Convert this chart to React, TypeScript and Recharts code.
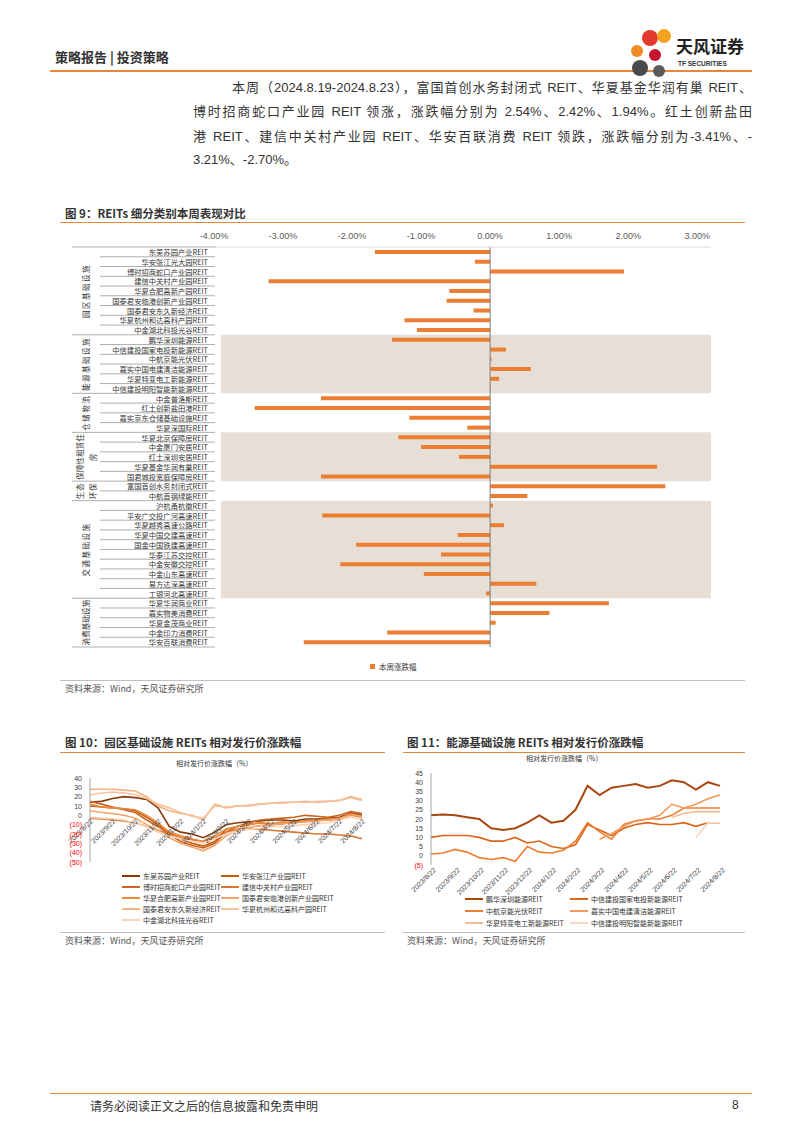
import React from 'react';
import { BarChart, Bar, XAxis, YAxis, ReferenceArea, ReferenceLine, LineChart, Line } from 'recharts';

// ---------------- Figure 9 data ----------------
const REIT_NAMES = [
  '东吴苏园产业REIT', '华安张江光大园REIT', '博时招商蛇口产业园REIT', '建信中关村产业园REIT', '华夏合肥高新产园REIT',
  '国泰君安临港创新产业园REIT', '国泰君安东久新经济REIT', '华夏杭州和达高科产园REIT', '中金湖北科投光谷REIT',
  '鹏华深圳能源REIT', '中信建投国家电投新能源REIT', '中航京能光伏REIT', '嘉实中国电建清洁能源REIT', '华夏特变电工新能源REIT',
  '中信建投明阳智能新能源REIT',
  '中金普洛斯REIT', '红土创新盐田港REIT', '嘉实京东仓储基础设施REIT', '华夏深国际REIT',
  '华夏北京保障房REIT', '中金厦门安居REIT', '红土深圳安居REIT', '华夏基金华润有巢REIT', '国君城投宽庭保障房REIT',
  '富国首创水务封闭式REIT', '中航首钢绿能REIT',
  '沪杭甬杭徽REIT', '平安广交投广河高速REIT', '华夏越秀高速公路REIT', '华夏中国交建高速REIT', '国金中国铁建高速REIT',
  '华泰江苏交控REIT', '中金安徽交控REIT', '中金山东高速REIT', '易方达深高速REIT', '工银河北高速REIT',
  '华夏华润商业REIT', '嘉实物美消费REIT', '华夏金茂商业REIT', '中金印力消费REIT', '华安百联消费REIT',
];
const REIT_CHANGES = [
  -1.67, -0.22, 1.94, -3.21, -0.59, -0.63, -0.24, -1.24, -1.06,
  -1.42, 0.23, 0.02, 0.59, 0.13, 0.01,
  -2.45, -3.41, -1.17, -0.33,
  -1.33, -1.0, -0.45, 2.42, -2.45,
  2.54, 0.54,
  0.04, -2.43, 0.2, -0.47, -1.94, -0.71, -2.17, -0.96, 0.67, -0.06,
  1.72, 0.86, 0.08, -1.49, -2.7,
];
const GROUP_LINES = [
  ['园区基础设施'], ['能源基础设施'], ['仓储物流'], ['保障性租赁住', '房'], ['生态', '环保'], ['交通基础设施'], ['消费基础设施'],
];
const GROUP_SIZES = [9, 6, 4, 5, 2, 10, 5];
const GROUP_SHADED = [false, true, false, true, false, true, false];
const PCT_TICKS = [-4, -3, -2, -1, 0, 1, 2, 3];

// ---------------- Figures 10 / 11 data ----------------
const DATES = [
  '2023/8/22', '2023/9/7', '2023/9/22', '2023/10/7', '2023/10/22', '2023/11/7', '2023/11/22', '2023/12/7', '2023/12/22',
  '2024/1/7', '2024/1/22', '2024/2/7', '2024/2/22', '2024/3/7', '2024/3/22', '2024/4/7', '2024/4/22', '2024/5/7',
  '2024/5/22', '2024/6/7', '2024/6/22', '2024/7/7', '2024/7/22', '2024/8/7', '2024/8/22',
];
const DATE_TICKS = [
  '2023/8/22', '2023/9/22', '2023/10/22', '2023/11/22', '2023/12/22', '2024/1/22', '2024/2/22', '2024/3/22',
  '2024/4/22', '2024/5/22', '2024/6/22', '2024/7/22', '2024/8/22',
];

const DONGWU = [14, 15, 18, 20, 19, 17, 8, -12, -18, -20, -24, -18, -10, -8, -7, -6, -5, -5, -6, -4, -4, -3, -2, 2, 0];
const HUAAN_ZJ = [10, 9, 8, 7, 5, -2, -10, -18, -25, -30, -33, -28, -15, -12, -10, -8, -10, -9, -7, -6, -5, -5, -4, 3, 1];
const BOSHI = [15, 12, 9, 6, 3, -5, -12, -20, -28, -32, -35, -30, -18, -12, -8, -5, -4, -3, -2, 0, -1, -2, 0, 4, 2];
const JIANXIN = [-3, -4, -5, -6, -8, -12, -16, -20, -24, -26, -28, -24, -18, -15, -14, -15, -16, -17, -18, -19, -20, -20, -21, -22, -25];
const HEFEI = [12, 9, 8, 7, 6, 0, -8, -18, -22, -25, -28, -22, -15, -12, -10, -8, -9, -7, -8, -6, -5, -4, -3, 0, -2];
const LINGANG = [5, 3, 2, 0, -3, -10, -16, -24, -30, -34, -38, -32, -22, -16, -13, -11, -10, -9, -8, -7, -6, -5, -4, 1, -1];
const DONGJIU = [28, 28, 28, 27, 26, 20, 10, 5, 2, 0, -5, 12, 8, 10, 10, 12, 13, 14, 14, 15, 14, 15, 16, 20, 17];
const HANGZHOU = [22, 24, 25, 24, 22, 18, 12, 8, 3, -1, -3, 10, 9, 10, 11, 12, 13, 13, 14, 14, 15, 15, 16, 19, 16];
const HUBEI = [-2, -3, -4, -5, -8, -12, -18, -22, -25, -28, -30, -25, -20, -17, -15, -14, -12, -12, -11, -10, -9, -8, -5, -2, -4];

const FIG10_NAMES = [
  '东吴苏园产业REIT', '华安张江产业园REIT', '博时招商蛇口产业园REIT', '建信中关村产业园REIT', '华夏合肥高新产业园REIT',
  '国泰君安临港创新产业园REIT', '国泰君安东久新经济REIT', '华夏杭州和达高科产园REIT', '中金湖北科技光谷REIT',
];
const FIG10_VALUES = [DONGWU, HUAAN_ZJ, BOSHI, JIANXIN, HEFEI, LINGANG, DONGJIU, HANGZHOU, HUBEI];
const FIG10_COLORS = ['#843C0C', '#C55A11', '#CC6420', '#D9772E', '#E98A3D', '#F0A46A', '#F4B183', '#F7C29C', '#FAD3B8'];

const N = null;
const PENGHUA = [22, 22.5, 22, 21, 20, 15, 14, 15, 18, 22, 18, 19, 25, 38, 33, 37, 38, 39, 37, 38, 41, 40, 36, 40, 38];
const ZXJT_GD = [10, 11, 11, 11, 10, 8, 8, 10, 7, 8, 5, 4, 6, 17, 14, 11, 15, 17, 18, 17, 17, 18, 16, 18, 18];
const ZHJN = [1, 1.5, 3.5, 2, -1, -2, -1, -3, 5, 2, 1.5, 3, 8, 18, 13, 9, 17, 19, 20, 20, 22, 26, 26, 26, 26];
const JSDJ = [N, N, N, N, N, N, N, N, N, N, N, N, N, N, 9, 12, 16, 19, 20, 22, 28, 26, 28, 31, 33];
const TBDG = [N, N, N, N, N, N, N, N, N, N, N, N, N, N, N, N, N, N, N, N, 21, 23, 24, 24, 24];
const MINGYANG = [N, N, N, N, N, N, N, N, N, N, N, N, N, N, N, N, N, N, N, N, N, N, 10, 18, 18];

const FIG11_NAMES = [
  '鹏华深圳能源REIT', '中信建投国家电投新能源REIT', '中航京能光伏REIT', '嘉实中国电建清洁能源REIT',
  '华夏特变电工新能源REIT', '中信建投明阳智能新能源REIT',
];
const FIG11_VALUES = [PENGHUA, ZXJT_GD, ZHJN, JSDJ, TBDG, MINGYANG];
const FIG11_COLORS = ['#A9470F', '#D9661A', '#ED7D31', '#F29A5C', '#F6BC97', '#FAD8C3'];

const FIG10_TICKS = [40, 30, 20, 10, 0, -10, -20, -30, -40, -50];
const FIG11_TICKS = [45, 40, 35, 30, 25, 20, 15, 10, 5, 0, -5];

// ---------------- layout constants ----------------
const SANS = '"Liberation Sans", Arial, "Noto Sans CJK SC", sans-serif';
const CJK = '"Noto Sans CJK SC", "Liberation Sans", sans-serif';
const ORANGE = '#E8873A';

const BAR_W = 660;
const BAR_H = 450;
const BAR_MARGIN = { top: 0, right: 9, bottom: 31, left: 0 };
const BAR_XAXIS_H = 19;
const BAR_YAXIS_W = 154;
const BAR_PLOT_H = BAR_H - BAR_MARGIN.top - BAR_MARGIN.bottom - BAR_XAXIS_H;
const ROW_H = BAR_PLOT_H / REIT_NAMES.length;
const GROUP_FONT = 7.5;

const barData = REIT_NAMES.map((name, i) => ({ name, value: REIT_CHANGES[i] }));

const ROW_INFO: { g: number; k: number; n: number }[] = [];
GROUP_SIZES.forEach((n, g) => {
  for (let k = 0; k < n; k++) ROW_INFO.push({ g, k, n });
});
const GROUP_START: number[] = [];
{
  let acc = 0;
  GROUP_SIZES.forEach((n) => {
    GROUP_START.push(acc);
    acc += n;
  });
}

function CategoryTick(props: any) {
  const { y, payload } = props;
  const idx = REIT_NAMES.indexOf(payload.value);
  const info = ROW_INFO[idx];
  const half = ROW_H / 2;
  const LABEL_RIGHT = 148;
  const ROW_LEFT = 40;
  const GROUP_LEFT = 12;
  const SEP_RIGHT = 155;
  const lines = GROUP_LINES[info.g];
  const groupCy = y + ((info.n - 1) * ROW_H) / 2;
  const colGap = 13;
  const groupSpan = info.n * ROW_H - 3;
  return (
    <g>
      <text x={LABEL_RIGHT} y={y + 0.3} textAnchor="end" dominantBaseline="central" fontSize={7.3} fill="#333" fontFamily={CJK}>
        {payload.value}
      </text>
      {idx === 0 && (
        <line x1={GROUP_LEFT} x2={SEP_RIGHT} y1={y - half} y2={y - half} stroke="#8c8c8c" strokeWidth={0.7} />
      )}
      <line
        x1={info.k === info.n - 1 ? GROUP_LEFT : ROW_LEFT}
        x2={SEP_RIGHT}
        y1={y + half}
        y2={y + half}
        stroke="#8c8c8c"
        strokeWidth={0.7}
      />
      {info.k === 0 &&
        lines.map((ln, li) => {
          const cx = 26 + (li - (lines.length - 1) / 2) * colGap;
          const chars = ln.length;
          const spacing = Math.max(0, Math.min(1.5, (groupSpan - chars * GROUP_FONT) / chars));
          return (
            <text
              key={li}
              x={cx}
              y={groupCy}
              transform={`rotate(-90, ${cx}, ${groupCy})`}
              textAnchor="middle"
              dominantBaseline="central"
              fontSize={GROUP_FONT}
              letterSpacing={spacing}
              fill="#333"
              fontFamily={CJK}
            >
              {ln}
            </text>
          );
        })}
    </g>
  );
}

function SignedTick(props: any) {
  const { x, y, payload } = props;
  const v = payload.value;
  const neg = v < 0;
  return (
    <text x={x} y={y} textAnchor="end" dominantBaseline="central" fontSize={7} fill={neg ? '#FF0000' : '#404040'} fontFamily={SANS}>
      {neg ? `(${Math.abs(v)})` : v}
    </text>
  );
}

// Figure 10 layout
const F10_W = 320;
const F10_H = 100;
const F10_MARGIN = { top: 8, right: 13, bottom: 7, left: 0 };
const F10_XAXIS_H = 1;
const F10_PLOT_H = F10_H - F10_MARGIN.top - F10_MARGIN.bottom - F10_XAXIS_H;
const F10_MIN = -50;
const F10_MAX = 40;
const F10_ZERO_OFF = (F10_PLOT_H * (0 - F10_MIN)) / (F10_MAX - F10_MIN);

function ZeroTick(props: any) {
  const { x, y, payload } = props;
  const ty = y - F10_ZERO_OFF + 3;
  return (
    <text transform={`translate(${x},${ty}) rotate(-45)`} textAnchor="end" dominantBaseline="hanging" fontSize={7} fill="#404040" fontFamily={SANS}>
      {payload.value}
    </text>
  );
}

function BottomTick(props: any) {
  const { x, y, payload } = props;
  return (
    <text transform={`translate(${x + 2},${y + 2}) rotate(-45)`} textAnchor="end" dominantBaseline="hanging" fontSize={7} fill="#404040" fontFamily={SANS}>
      {payload.value}
    </text>
  );
}

const fig10Data = DATES.map((date, i) => {
  const row: any = { date };
  FIG10_VALUES.forEach((arr, s) => {
    row['s' + s] = arr[i];
  });
  return row;
});
const fig11Data = DATES.map((date, i) => {
  const row: any = { date };
  FIG11_VALUES.forEach((arr, s) => {
    row['s' + s] = arr[i];
  });
  return row;
});

const abs = (left: number, top: number, extra: React.CSSProperties = {}): React.CSSProperties => ({
  position: 'absolute',
  left,
  top,
  ...extra,
});

function HLine({ x1, x2, y, color, w = 1 }: { x1: number; x2: number; y: number; color: string; w?: number }) {
  return <div style={abs(x1, y, { width: x2 - x1, height: w, background: color })} />;
}

function LegendItem({ x, y, color, label }: { x: number; y: number; color: string; label: string }) {
  return (
    <div style={abs(x, y - 6, { display: 'flex', alignItems: 'center', height: 12, whiteSpace: 'nowrap' })}>
      <div style={{ width: 18, height: 2.5, background: color, marginRight: 3 }} />
      <span style={{ fontSize: 7, color: '#333', fontFamily: CJK }}>{label}</span>
    </div>
  );
}

const textLine = (left: number, top: number, width: number, content: string, justify = true) => (
  <div
    style={abs(left, top, {
      width,
      fontSize: 13,
      lineHeight: '16px',
      color: '#333',
      fontFamily: SANS,
      whiteSpace: 'nowrap',
      textAlign: justify ? 'justify' : 'left',
      textAlignLast: justify ? 'justify' : 'left',
    } as React.CSSProperties)}
  >
    {content}
  </div>
);

export default function App() {
  const shadedAreas = GROUP_SIZES.map((n, g) => ({ g, start: GROUP_START[g], n })).filter((a) => GROUP_SHADED[a.g]);
  return (
    <div style={{ position: 'absolute', left: 0, top: 0, width: 802, height: 1133, background: '#fff', fontFamily: SANS, overflow: 'hidden' }}>
      {/* Header */}
      <div style={abs(55, 49, { fontSize: 13, fontWeight: 'bold', color: '#333', fontFamily: CJK, lineHeight: '16px' })}>策略报告 | 投资策略</div>
      <HLine x1={50} x2={752} y={70} color={ORANGE} w={2} />
      <svg style={abs(620, 24)} width={60} height={56}>
        <circle cx={30} cy={14} r={8} fill="#E23B2E" />
        <circle cx={44} cy={12} r={7} fill="#F4A21F" />
        <circle cx={17} cy={27} r={6} fill="#F08A24" />
        <circle cx={35} cy={31} r={6} fill="#C4122F" />
        <circle cx={20} cy={44} r={8} fill="#4A4A4A" />
        <circle cx={39} cy={47} r={6} fill="#5A5A5A" />
      </svg>
      <div style={abs(676, 36, { fontSize: 17, fontWeight: 'bold', color: '#222', fontFamily: CJK, lineHeight: '20px' })}>天风证券</div>
      <div style={abs(678, 60, { fontSize: 6.5, fontWeight: 'bold', color: '#333', fontFamily: SANS, lineHeight: '8px' })}>TF SECURITIES</div>

      {/* Paragraph */}
      {textLine(232, 80, 520, '本周（2024.8.19-2024.8.23），富国首创水务封闭式 REIT、华夏基金华润有巢 REIT、')}
      {textLine(193, 104, 559, '博时招商蛇口产业园 REIT 领涨，涨跌幅分别为 2.54%、2.42%、1.94%。红土创新盐田')}
      {textLine(193, 129, 559, '港 REIT、建信中关村产业园 REIT、华安百联消费 REIT 领跌，涨跌幅分别为-3.41%、-')}
      {textLine(193, 152, 200, '3.21%、-2.70%。', false)}

      {/* Figure 9 */}
      <div style={abs(65, 206, { fontSize: 11.5, fontWeight: 'bold', color: '#333', fontFamily: CJK, lineHeight: '14px' })}>图 9：REITs 细分类别本周表现对比</div>
      <HLine x1={60} x2={745} y={222} color={ORANGE} w={1} />
      <div style={abs(60, 228)}>
        <BarChart width={BAR_W} height={BAR_H} data={barData} layout="vertical" margin={BAR_MARGIN}>
          <XAxis
            type="number"
            orientation="top"
            domain={[-4, 3.2]}
            ticks={PCT_TICKS}
            tickFormatter={(v: number) => v.toFixed(2) + '%'}
            height={BAR_XAXIS_H}
            axisLine={{ stroke: '#d9d9d9' }}
            tickLine={false}
            tick={{ fontSize: 9, fill: '#595959', fontFamily: SANS }}
          />
          <YAxis
            type="category"
            dataKey="name"
            width={BAR_YAXIS_W}
            interval={0}
            axisLine={false}
            tickLine={false}
            tick={(p: any) => <CategoryTick {...p} />}
          />
          {shadedAreas.map((a) => (
            <ReferenceArea
              key={a.g}
              y1={REIT_NAMES[a.start]}
              y2={REIT_NAMES[a.start + a.n - 1]}
              x1={-3.9}
              x2={3.2}
              fill="#E7DFD6"
              fillOpacity={1}
              stroke="none"
            />
          ))}
          <ReferenceLine x={0} stroke="#7f7f7f" strokeWidth={1} />
          <Bar dataKey="value" fill="#ED7D31" barSize={4} isAnimationActive={false} />
        </BarChart>
      </div>
      <div style={abs(370, 661, { display: 'flex', alignItems: 'center', whiteSpace: 'nowrap' })}>
        <div style={{ width: 5, height: 5, background: '#ED7D31', marginRight: 4 }} />
        <span style={{ fontSize: 7.5, color: '#333', fontFamily: CJK }}>本周涨跌幅</span>
      </div>
      <HLine x1={60} x2={745} y={680} color="#bfbfbf" w={1} />
      <div style={abs(65, 683, { fontSize: 9, color: '#555', fontFamily: CJK, lineHeight: '12px' })}>资料来源：Wind，天风证券研究所</div>

      {/* Figure 10 */}
      <div style={abs(65, 735, { fontSize: 11.5, fontWeight: 'bold', color: '#333', fontFamily: CJK, lineHeight: '14px' })}>图 10：园区基础设施 REITs 相对发行价涨跌幅</div>
      <HLine x1={60} x2={385} y={752} color={ORANGE} w={1} />
      <div style={abs(176, 758, { fontSize: 7, color: '#333', fontFamily: CJK, lineHeight: '10px' })}>相对发行价涨跌幅（%）</div>
      <div style={abs(55, 770)}>
        <LineChart width={F10_W} height={F10_H} data={fig10Data} margin={F10_MARGIN}>
          <XAxis
            dataKey="date"
            ticks={DATE_TICKS}
            interval={0}
            height={F10_XAXIS_H}
            axisLine={false}
            tickLine={false}
            tickSize={0}
            tickMargin={0}
            tick={(p: any) => <ZeroTick {...p} />}
          />
          <YAxis
            domain={[F10_MIN, F10_MAX]}
            ticks={FIG10_TICKS}
            interval={0}
            width={35}
            axisLine={{ stroke: '#a6a6a6' }}
            tickLine={false}
            tick={(p: any) => <SignedTick {...p} />}
          />
          {FIG10_NAMES.map((name, s) => (
            <Line
              key={name}
              type="linear"
              dataKey={'s' + s}
              name={name}
              stroke={FIG10_COLORS[s]}
              strokeWidth={1.6}
              dot={false}
              isAnimationActive={false}
            />
          ))}
        </LineChart>
      </div>
      {FIG10_NAMES.map((name, i) => (
        <LegendItem key={name} x={i % 2 === 0 ? 122 : 221} y={876 + Math.floor(i / 2) * 11} color={FIG10_COLORS[i]} label={name} />
      ))}
      <HLine x1={60} x2={385} y={932} color="#bfbfbf" w={1} />
      <div style={abs(65, 935, { fontSize: 9, color: '#555', fontFamily: CJK, lineHeight: '12px' })}>资料来源：Wind，天风证券研究所</div>

      {/* Figure 11 */}
      <div style={abs(407, 735, { fontSize: 11.5, fontWeight: 'bold', color: '#333', fontFamily: CJK, lineHeight: '14px' })}>图 11：能源基础设施 REITs 相对发行价涨跌幅</div>
      <HLine x1={403} x2={745} y={752} color={ORANGE} w={1} />
      <div style={abs(526, 753, { fontSize: 7, color: '#333', fontFamily: CJK, lineHeight: '10px' })}>相对发行价涨跌幅（%）</div>
      <div style={abs(395, 765)}>
        <LineChart width={335} height={140} data={fig11Data} margin={{ top: 8, right: 10, bottom: 0, left: 0 }}>
          <XAxis
            dataKey="date"
            ticks={DATE_TICKS}
            interval={0}
            height={40}
            axisLine={false}
            tickLine={false}
            tickSize={0}
            tickMargin={0}
            tick={(p: any) => <BottomTick {...p} />}
          />
          <YAxis
            domain={[-5, 45]}
            ticks={FIG11_TICKS}
            interval={0}
            width={36}
            axisLine={{ stroke: '#a6a6a6' }}
            tickLine={false}
            tick={(p: any) => <SignedTick {...p} />}
          />
          {FIG11_NAMES.map((name, s) => (
            <Line
              key={name}
              type="linear"
              dataKey={'s' + s}
              name={name}
              stroke={FIG11_COLORS[s]}
              strokeWidth={s === 0 ? 2 : 1.6}
              dot={false}
              connectNulls={false}
              isAnimationActive={false}
            />
          ))}
        </LineChart>
      </div>
      {FIG11_NAMES.map((name, i) => (
        <LegendItem key={name} x={i % 2 === 0 ? 465 : 570} y={899 + Math.floor(i / 2) * 12} color={FIG11_COLORS[i]} label={name} />
      ))}
      <HLine x1={403} x2={745} y={932} color="#bfbfbf" w={1} />
      <div style={abs(407, 935, { fontSize: 9, color: '#555', fontFamily: CJK, lineHeight: '12px' })}>资料来源：Wind，天风证券研究所</div>

      {/* Footer */}
      <HLine x1={50} x2={752} y={1093} color={ORANGE} w={1} />
      <div style={abs(90, 1098, { fontSize: 12, color: '#333', fontFamily: CJK, lineHeight: '15px' })}>请务必阅读正文之后的信息披露和免责申明</div>
      <div style={abs(732, 1098, { fontSize: 12, color: '#333', fontFamily: SANS, lineHeight: '15px' })}>8</div>
    </div>
  );
}
